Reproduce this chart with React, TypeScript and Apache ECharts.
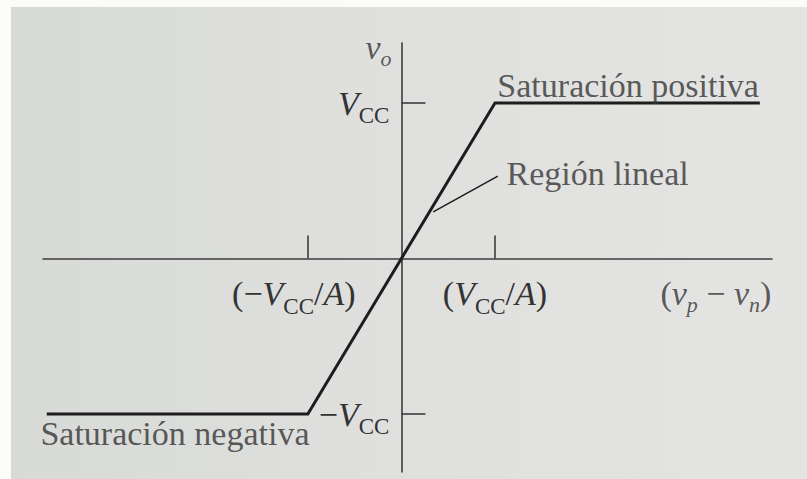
import { useEffect, useRef } from "react";
import * as echarts from "echarts";

// Transfer characteristic of an op-amp: x in units of V_CC/A, y in units of V_CC
const transferX = [-3.79, -1, 1, 3.83];
const transferY = [-1, -1, 1, 1];

// Tick positions on each axis
const ticksX = [-1, 1];
const ticksY = [-1, 1];

// Leader line pointing at the linear region
const leaderX = [0.34, 1.03];
const leaderY = [0.3, 0.53];

// Axis ranges
const xRange = [-3.83, 3.96];
const yRange = [-1.373, 1.386];

// Tick label texts (rich-text markup)
const labelNegX = "{r|(−}{i|V}{s|CC}{r|/}{i|A}{r|)}{g| }";
const labelPosX = "{r|(}{i|V}{s|CC}{r|/}{i|A}{r|)}";
const labelPosY = "{i|V}{s|CC}";
const labelNegY = "{r|−}{i|V}{s|CC}";

// Free-standing annotation texts
const noteTexts = [
  "{r|Saturación positiva}",
  "{r|Región lineal}",
  "{r|Saturación negativa}",
  "{i|v}{si|o}",
  "{r|(}{i|v}{si|p}{r| − }{i|v}{si|n}{r|)}",
];

const SERIF = "'Liberation Serif', 'DejaVu Serif', serif";
const INK = "#333333";
const LINE = "#1d1d1d";
const AXIS = "#3d3d3d";

const GRID = { left: 43, right: 35, top: 43, bottom: 7 };
const W = 807;
const H = 479;

const rich = {
  r: { fontFamily: SERIF, fontSize: 34, lineHeight: 40, color: INK },
  i: { fontFamily: SERIF, fontStyle: "italic", fontSize: 34, lineHeight: 40, color: INK },
  s: { fontFamily: SERIF, fontSize: 23, lineHeight: 14, padding: [25, 0, 0, 0], color: INK },
  si: { fontFamily: SERIF, fontStyle: "italic", fontSize: 22, lineHeight: 14, padding: [22, 0, 0, 0], color: INK },
  g: { fontFamily: SERIF, fontSize: 34, lineHeight: 40, width: 28, color: INK },
};

// Where each annotation sits (data coordinates) and which side of the anchor the text goes
const notePlacement: { at: [number, number]; side: "left" | "right" }[] = [
  { at: [1.02, 1.113], side: "right" },
  { at: [1.117, 0.547], side: "right" },
  { at: [-3.863, -1.125], side: "right" },
  { at: [-0.39, 1.358], side: "right" },
  { at: [3.959, -0.224], side: "left" },
];

export default function App() {
  const ref = useRef<HTMLDivElement>(null);

  useEffect(() => {
    if (!ref.current) return;
    const chart = echarts.init(ref.current, undefined, { renderer: "svg" });

    // Move both axes from the grid edges to cross at the origin
    const plotW = W - GRID.left - GRID.right;
    const plotH = H - GRID.top - GRID.bottom;
    const xAxisShift = -(plotH * (0 - yRange[0])) / (yRange[1] - yRange[0]);
    const yAxisShift = -(plotW * (0 - xRange[0])) / (xRange[1] - xRange[0]);

    const tickStyle = { color: AXIS, width: 1.6 };

    chart.setOption({
      animation: false,
      backgroundColor: "#fbfbfa",
      tooltip: { show: false },
      graphic: [
        {
          type: "rect",
          z: -100,
          silent: true,
          shape: { x: 11, y: 7, width: 796, height: 472 },
          style: {
            fill: new echarts.graphic.LinearGradient(0, 0, 1, 0, [
              { offset: 0, color: "#d7dad6" },
              { offset: 0.45, color: "#dfe0de" },
              { offset: 1, color: "#e4e4e3" },
            ]),
          },
        },
      ],
      grid: { ...GRID, containLabel: false, outerBoundsMode: "none" },
      xAxis: {
        type: "value",
        min: xRange[0],
        max: xRange[1],
        offset: xAxisShift,
        splitLine: { show: false },
        axisLine: { onZero: false, lineStyle: tickStyle },
        axisTick: { show: true, inside: true, length: 23, customValues: ticksX, lineStyle: tickStyle },
        axisLabel: {
          show: true,
          customValues: ticksX,
          margin: 15,
          formatter: (v: number) => (v < 0 ? labelNegX : labelPosX),
          rich,
        },
      },
      yAxis: {
        type: "value",
        min: yRange[0],
        max: yRange[1],
        offset: yAxisShift,
        splitLine: { show: false },
        axisLine: { onZero: false, lineStyle: tickStyle },
        axisTick: { show: true, inside: true, length: 24, customValues: ticksY, lineStyle: tickStyle },
        axisLabel: {
          show: true,
          customValues: ticksY,
          margin: 12,
          formatter: (v: number) => (v < 0 ? labelNegY : labelPosY),
          rich,
        },
      },
      series: [
        {
          type: "line",
          data: transferX.map((x, i) => [x, transferY[i]]),
          symbol: "none",
          z: 5,
          lineStyle: { color: LINE, width: 3, join: "miter" },
        },
        {
          type: "line",
          data: leaderX.map((x, i) => [x, leaderY[i]]),
          symbol: "none",
          z: 4,
          lineStyle: { color: LINE, width: 1.5 },
        },
        {
          type: "scatter",
          symbolSize: 1,
          clip: false,
          itemStyle: { color: "rgba(0,0,0,0)" },
          z: 6,
          data: noteTexts.map((text, i) => ({
            value: notePlacement[i].at,
            label: {
              show: true,
              position: notePlacement[i].side,
              distance: 0,
              formatter: text,
              rich,
            },
          })),
        },
      ],
    });

    return () => chart.dispose();
  }, []);

  return (
    <div
      ref={ref}
      style={{ position: "absolute", left: 0, top: 0, width: W, height: H }}
    />
  );
}
